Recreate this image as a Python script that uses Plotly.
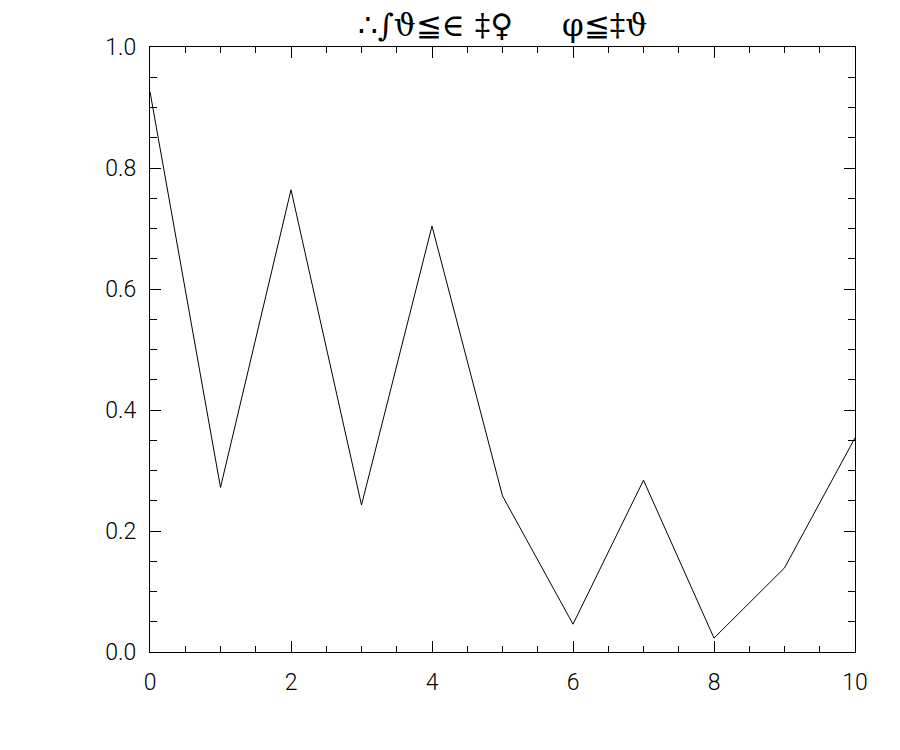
import plotly.graph_objects as go

x_values = [0, 1, 2, 3, 4, 5, 6, 7, 8, 9, 10]
y_values = [0.926, 0.272, 0.764, 0.243, 0.704, 0.258, 0.046, 0.284, 0.023, 0.139, 0.354]
x_tick_vals = [0, 2, 4, 6, 8, 10]
x_tick_text = ["0", "2", "4", "6", "8", "10"]
y_tick_vals = [0.0, 0.2, 0.4, 0.6, 0.8, 1.0]
y_tick_text = ["0.0", "0.2", "0.4", "0.6", "0.8", "1.0"]
title_text = "∴∫ϑ≦∈ ‡♀     φ≦‡ϑ"

fig = go.Figure()
fig.add_trace(go.Scatter(x=x_values, y=y_values, mode="lines",
                         line=dict(color="black", width=1), showlegend=False))

axis_common = dict(
    showgrid=False, zeroline=False, showline=True, linecolor="black", linewidth=1,
    mirror="ticks", ticks="inside", tickcolor="black", tickwidth=1,
    tickfont=dict(family="Roboto", size=23, color="black", weight=300),
)
fig.update_xaxes(range=[0, 10], tickvals=x_tick_vals, ticktext=x_tick_text, ticklen=11,
                 minor=dict(dtick=0.5, ticks="inside", ticklen=6, tickcolor="black", tickwidth=1),
                 ticklabelstandoff=9, **axis_common)
fig.update_yaxes(range=[0, 1], tickvals=y_tick_vals, ticktext=y_tick_text, ticklen=11,
                 minor=dict(dtick=0.05, ticks="inside", ticklen=7, tickcolor="black", tickwidth=1),
                 ticklabelstandoff=8, **axis_common)

fig.update_layout(
    width=900, height=750,
    margin=dict(l=142, r=53, t=39, b=106),
    paper_bgcolor="white", plot_bgcolor="white",
    title=dict(text=title_text, xref="paper", x=0.5, xanchor="center",
               y=0.977, yanchor="middle",
               font=dict(family="DejaVu Serif", size=31, color="black")),
)
fig.write_html("out.html")
